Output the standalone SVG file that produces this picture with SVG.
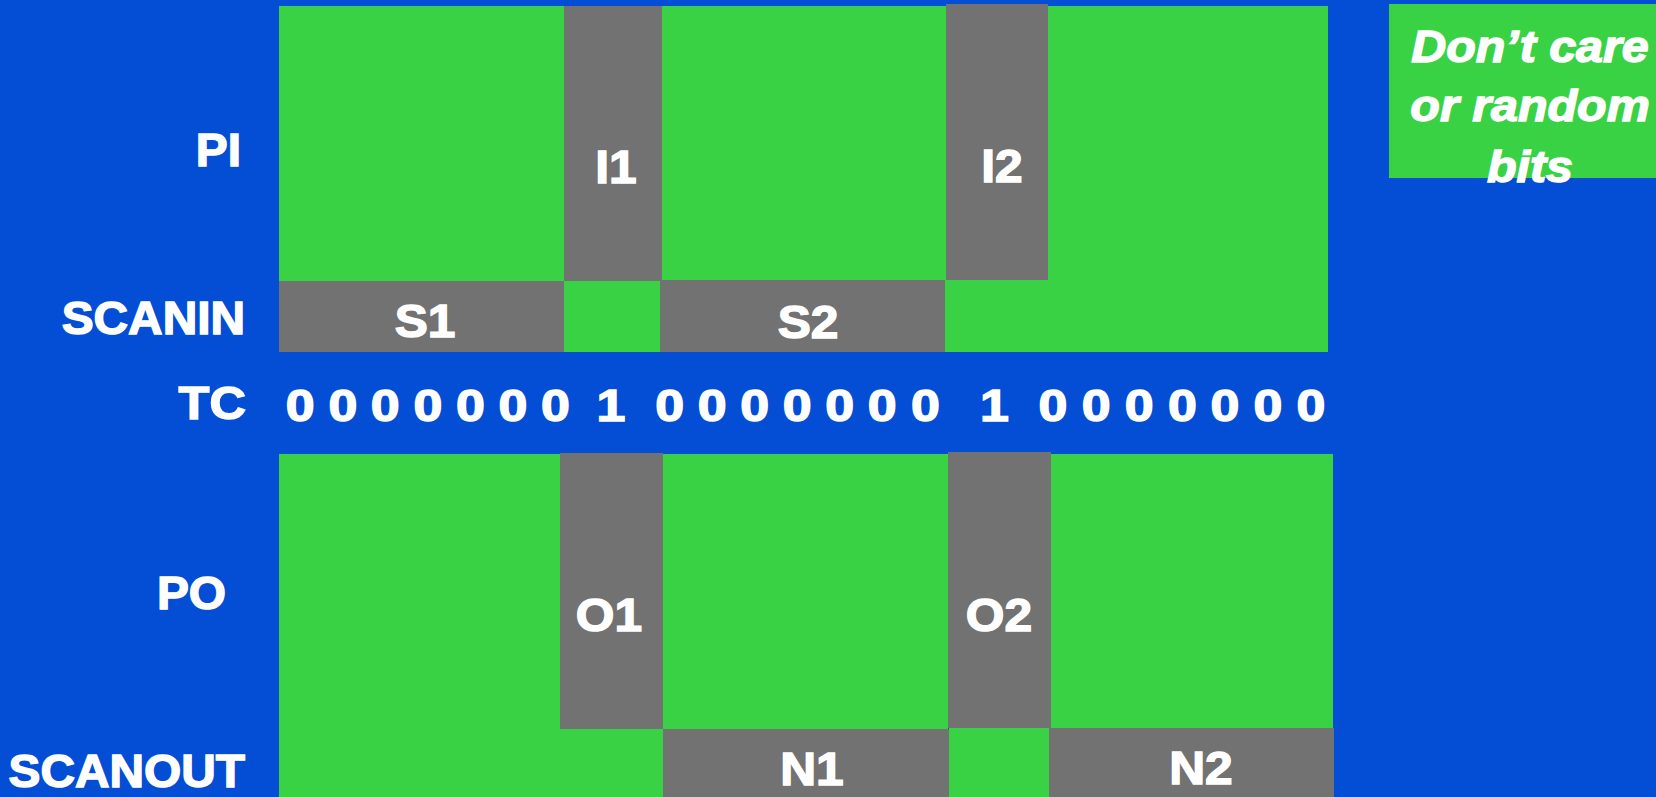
<svg xmlns="http://www.w3.org/2000/svg" width="1656" height="797" viewBox="0 0 1656 797">
<style>
.g{fill:#38D244}
.k{fill:#727272}
.t{fill:#FFFFFF;stroke:#FFFFFF;stroke-width:1.4px;font-family:"Liberation Sans",Arial,sans-serif;font-weight:bold;font-size:46px}
.m{text-anchor:middle}
.e{text-anchor:end}
.d{fill:#FFFFFF;stroke:#FFFFFF;stroke-width:1.4px;font-family:"Liberation Sans",Arial,sans-serif;font-weight:bold;font-size:44px;text-anchor:middle}
.l{fill:#FFFFFF;stroke:#FFFFFF;stroke-width:1.4px;font-family:"Liberation Sans",Arial,sans-serif;font-weight:bold;font-style:italic;font-size:44px;text-anchor:middle}
</style>
<rect x="0" y="0" width="1656" height="797" fill="#044ED5"/>
<g id="labels">
<text class="t e" transform="translate(241,166) scale(1.04,1)">PI</text>
<text class="t e" transform="translate(245,334) scale(1.04,1)">SCANIN</text>
<text class="t e" transform="translate(246,419) scale(1.1,1)">TC</text>
<text class="t e" transform="translate(226,609) scale(1.04,1)">PO</text>
<text class="t e" transform="translate(245,787) scale(1.04,1)">SCANOUT</text>
</g>
<g id="pi-row">
<rect class="g" x="279" y="6" width="285" height="275"/>
<rect class="g" x="564" y="281" width="96" height="71"/>
<rect class="g" x="662" y="6" width="284" height="274"/>
<rect class="g" x="945" y="280" width="383" height="72"/>
<rect class="g" x="1048" y="6" width="280" height="274"/>
</g>
<g id="I1"><rect class="k" x="564" y="6" width="98" height="275"/><text class="t m" transform="translate(616,183) scale(1.08,1)">I1</text></g>
<g id="S1"><rect class="k" x="279" y="281" width="285" height="71"/><text class="t m" transform="translate(425,337) scale(1.08,1)">S1</text></g>
<g id="I2"><rect class="k" x="946" y="4" width="102" height="276"/><text class="t m" transform="translate(1002,182) scale(1.08,1)">I2</text></g>
<g id="S2"><rect class="k" x="660" y="280" width="285" height="72"/><text class="t m" transform="translate(808,338) scale(1.08,1)">S2</text></g>
<g id="tc-row">
<text class="d" transform="translate(0,421) scale(1.18,1)" x="254.5 290.7 326.5 362.7 398.6 434.7 470.8 517.8 567.5 603.6 639.6 675.7 711.6 747.7 784.2 842.8 892.4 929 965.5 1002 1038 1074.6 1111">00000001000000010000000</text>
</g>
<g id="po-row">
<rect class="g" x="279" y="454" width="281" height="275"/>
<rect class="g" x="279" y="729" width="384" height="68"/>
<rect class="g" x="663" y="454" width="285" height="275"/>
<rect class="g" x="949" y="728" width="100" height="69"/>
<rect class="g" x="1051" y="454" width="282" height="274"/>
</g>
<g id="O1"><rect class="k" x="560" y="453" width="103" height="276"/><text class="t m" transform="translate(609,631) scale(1.08,1)">O1</text></g>
<g id="O2"><rect class="k" x="948" y="452" width="103" height="276"/><text class="t m" transform="translate(999,631) scale(1.08,1)">O2</text></g>
<g id="N1"><rect class="k" x="663" y="729" width="286" height="68"/><text class="t m" transform="translate(812,785) scale(1.08,1)">N1</text></g>
<g id="N2"><rect class="k" x="1049" y="728" width="285" height="69"/><text class="t m" transform="translate(1201,784) scale(1.08,1)">N2</text></g>
<g id="legend">
<rect class="g" x="1389" y="4" width="267" height="174"/>
<text class="l" transform="translate(1530,62) scale(1.1,1)">Don’t care</text>
<text class="l" transform="translate(1530,121) scale(1.1,1)">or random</text>
<text class="l" transform="translate(1530,182) scale(1.1,1)">bits</text>
</g>
</svg>
